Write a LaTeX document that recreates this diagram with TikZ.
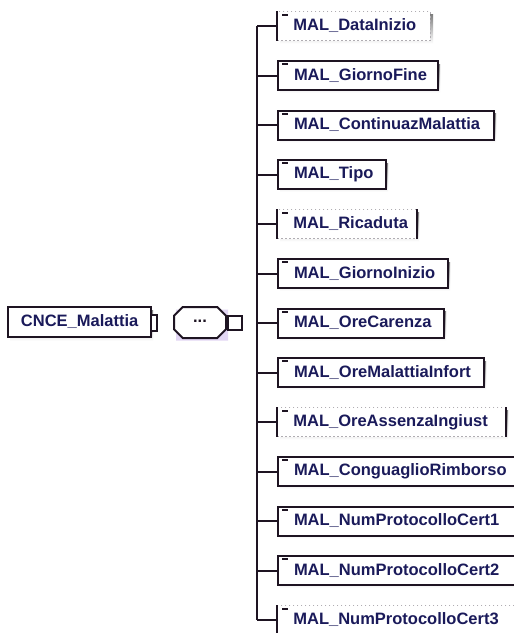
\documentclass[tikz,border=0pt]{standalone}
\usepackage{fontspec}
\setmainfont{Liberation Sans}
\usetikzlibrary{shapes.misc}
\definecolor{txt}{RGB}{26,26,90}
\definecolor{edge}{RGB}{30,20,34}
\definecolor{shade}{RGB}{226,214,244}
\tikzset{
  lbl/.style={font=\fontsize{16.5}{18}\selectfont\bfseries, text=txt},
  elbox/.style={lbl, draw=edge, line width=2pt, fill=white, anchor=west, minimum height=29pt, inner xsep=0pt, inner ysep=0pt},
  optbox/.style={lbl, draw=edge!35, dash pattern=on 1.5pt off 2.5pt, line width=0.8pt, fill=white, anchor=west, minimum height=29pt, inner xsep=0pt, inner ysep=0pt},
  conn/.style={draw=edge, line width=2pt},
  icon/.style={draw=edge, line width=2pt},
  seqshape/.style={chamfered rectangle, chamfered rectangle xsep=6pt, chamfered rectangle ysep=6pt, minimum width=52pt, minimum height=31pt, inner sep=0pt},
}
\newcommand\chld[5]{%
  \fill[shade] (280,#2-11.5) rectangle (280+#3,#2+17.5);
  \node[#5, minimum width=#3pt] (#1) at (277,#2) {\makebox[#3pt][l]{\hspace{16pt}#4}};
  \draw[icon] ([xshift=5pt,yshift=-4pt]#1.north west) -- ++(6,0);
  \draw[conn] (#1.west -| vtop) -- (#1.west);
}
\begin{document}
\begin{tikzpicture}[x=1pt,y=-1pt]
\clip (0,0) rectangle (514,633);
\useasboundingbox (0,0) rectangle (514,633);
\fill[white] (0,0) rectangle (514,633);
% root element
\fill[shade] (10,310) rectangle (153,341);
\node[elbox, minimum width=143pt, minimum height=30pt] (root) at (7,322) {\makebox[143pt][l]{\hspace{13pt}CNCE\_Malattia}};
\draw[conn, fill=white] ([yshift=7pt]root.east) -- ++(5,0) -- ++(0,16) -- ++(-5,0);
% sequence compositor
\node[seqshape, fill=shade] at (202,325) {};
\node[seqshape, draw=edge, line width=2pt, fill=white, lbl, text=edge] (seq) at (200,322.5) {\raisebox{3pt}{...}};
\node[draw=edge, line width=2pt, fill=white, minimum size=14pt, inner sep=0pt, anchor=west] (sq) at (seq.east) {};
% tree trunk
\coordinate (vtop) at (257,26);
\coordinate (vbot) at (257,620);
\draw[conn] (vtop) -- (vbot);
% children
\chld{c1}{26}{153}{MAL\_DataInizio}{optbox}
\draw[conn] (c1.north west) -- (c1.south west);
\chld{c2}{75.5}{160}{MAL\_GiornoFine}{elbox}
\chld{c3}{125}{216}{MAL\_ContinuazMalattia}{elbox}
\chld{c4}{174.5}{108}{MAL\_Tipo}{elbox}
\chld{c5}{224}{139}{MAL\_Ricaduta}{optbox}
\draw[conn] (c5.north west) -- (c5.south west);
\draw[conn] (c5.north east) -- (c5.south east);
\chld{c6}{273.5}{170}{MAL\_GiornoInizio}{elbox}
\chld{c7}{323}{166}{MAL\_OreCarenza}{elbox}
\chld{c8}{372.5}{206}{MAL\_OreMalattiaInfort}{elbox}
\chld{c9}{422}{228}{MAL\_OreAssenzaIngiust}{optbox}
\draw[conn] (c9.north west) -- (c9.south west);
\draw[conn] (c9.north east) -- (c9.south east);
\chld{c10}{471.5}{248}{MAL\_ConguaglioRimborso}{elbox}
\chld{c11}{521}{248}{MAL\_NumProtocolloCert1}{elbox}
\chld{c12}{570.5}{248}{MAL\_NumProtocolloCert2}{elbox}
\chld{c13}{620}{248}{MAL\_NumProtocolloCert3}{optbox}
\draw[conn] (c13.north west) -- (c13.south west);
\end{tikzpicture}
\end{document}
